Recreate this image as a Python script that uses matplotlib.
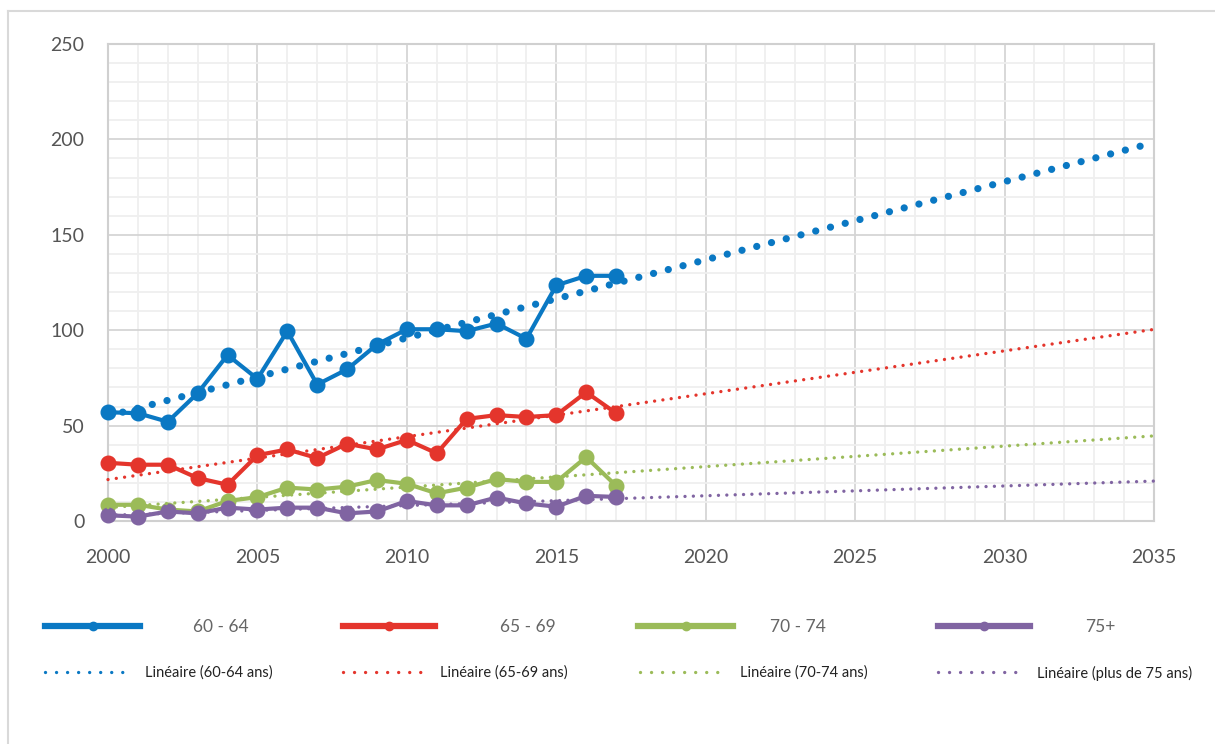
import numpy as np
import matplotlib
matplotlib.use("Agg")
import matplotlib.pyplot as plt
from matplotlib.lines import Line2D

plt.rcParams['font.family'] = ['Lato', 'DejaVu Sans']

years = list(range(2000, 2018))
v60_64 = [57, 56.5, 52, 67, 87, 74.5, 99.5, 71.5, 79.5, 92.5, 100.5, 100.5, 99.5, 103.5, 95.5, 123.5, 128.5, 128.5]
v65_69 = [30.5, 29.5, 29.5, 22.5, 19, 34.5, 37.5, 33, 40.5, 37.5, 42.5, 35.5, 53.5, 55.5, 54.5, 55.5, 67.5, 56.5]
v70_74 = [8.5, 8.5, 6, 5, 10.5, 12.5, 17.5, 16.5, 18, 21.5, 19.5, 14.5, 17.5, 22, 20.5, 20.5, 33.5, 18.5]
v75p = [3, 2.3, 5, 4, 7, 6, 7, 7, 4, 5, 10.5, 8.2, 8.2, 12.3, 9.2, 7.5, 13.2, 12.6]

series_labels = ["60 - 64", "65 - 69", "70 - 74", "75+"]
trend_labels = ["Linéaire (60-64 ans)", "Linéaire (65-69 ans)",
                "Linéaire (70-74 ans)", "Linéaire (plus de 75 ans)"]
colors = ["#0A78C3", "#E4352C", "#9BBB59", "#8064A2"]
trend_end = 2035
xticks = [2000, 2005, 2010, 2015, 2020, 2025, 2030, 2035]
yticks = [0, 50, 100, 150, 200, 250]

W, H = 1215, 744
fig = plt.figure(figsize=(W / 100, H / 100), dpi=100)
ax = fig.add_axes([108 / W, 1 - 521 / H, (1154 - 108) / W, (521 - 44) / H])

# figure frame (top + left)
fig.add_artist(Line2D([8 / W, 8 / W], [0, 1 - 10.5 / H], transform=fig.transFigure,
                      color="#D9D9D9", lw=1.5))
fig.add_artist(Line2D([8 / W, 1], [1 - 10.5 / H, 1 - 10.5 / H], transform=fig.transFigure,
                      color="#D9D9D9", lw=1.5))

ax.set_xlim(2000, 2035)
ax.set_ylim(0, 250)
ax.set_xticks(xticks)
ax.set_yticks(yticks)
ax.set_xticks(np.arange(2000, 2036, 1), minor=True)
ax.set_yticks(np.arange(0, 251, 10), minor=True)
ax.grid(which="minor", color="#EFEFEF", lw=1.3, zorder=0)
ax.grid(which="major", color="#D5D5D5", lw=1.3, zorder=0)
ax.set_axisbelow(True)
for s in ax.spines.values():
    s.set_color("#D0D0D0")
    s.set_linewidth(1.5)
ax.tick_params(which="both", length=0)
ax.tick_params(axis="y", pad=17, labelsize=14, labelcolor="#555555")
ax.tick_params(axis="x", pad=20, labelsize=14, labelcolor="#555555")

all_series = [v60_64, v65_69, v70_74, v75p]
tx = np.linspace(2000, trend_end, 141)
for i, (vals, col) in enumerate(zip(all_series, colors)):
    ax.plot(years, vals, color=col, lw=3.0, marker="o", ms=10.5, zorder=3, clip_on=False)
    k, b = np.polyfit(years, vals, 1)
    if i == 0:
        lw, gap = 5.2, 2.1
    else:
        lw, gap = 2.4, 2.5
    ax.plot(tx, k * tx + b, color=col, lw=lw, linestyle=(0, (0.01, gap)),
            dash_capstyle="round", zorder=4, clip_on=False)

# legend (one entry per legend box for exact placement)
fs1 = 12.5
fs1px = fs1 * 100 / 72
fs2 = 10.5
fs2px = fs2 * 100 / 72
row1 = [(45, 140, 193), (343, 435, 500), (638, 733, 770), (938, 1030, 1085)]
row2 = [(45, 130, 145), (343, 428, 440), (640, 720, 740), (938, 1022, 1037)]
for i, col in enumerate(colors):
    x0, x1, xt = row1[i]
    h = Line2D([], [], color=col, lw=4.5, marker="o", ms=6)
    fig.legend([h], [series_labels[i]], loc="center left",
               bbox_to_anchor=(x0 / W, 1 - 627 / H), frameon=False,
               borderpad=0, borderaxespad=0, fontsize=fs1,
               handlelength=(x1 - x0) / fs1px, handletextpad=(xt - x1) / fs1px,
               labelcolor="#666666")
    x0, x1, xt = row2[i]
    h2 = Line2D([], [], color=col, lw=2.4, linestyle=(0, (0.01, 3.3)),
                dash_capstyle="round")
    fig.legend([h2], [trend_labels[i]], loc="center left",
               bbox_to_anchor=(x0 / W, 1 - 673 / H), frameon=False,
               borderpad=0, borderaxespad=0, fontsize=fs2,
               handlelength=(x1 - x0) / fs2px, handletextpad=(xt - x1) / fs2px,
               labelcolor="#222222")

fig.savefig("out.png", dpi=100)
